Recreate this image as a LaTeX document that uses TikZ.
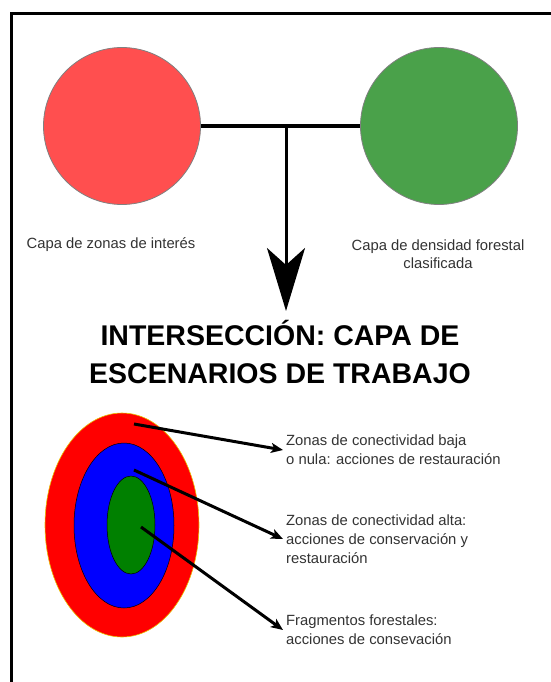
\documentclass[tikz,border=0pt]{standalone}
\usepackage{fontspec}
\setmainfont{Liberation Sans}
\usetikzlibrary{arrows.meta,shapes.geometric}
\definecolor{circred}{HTML}{FF4F4F}
\definecolor{circgreen}{HTML}{4AA14A}
\definecolor{txtgray}{HTML}{333333}
\definecolor{ringred}{HTML}{FF0000}
\definecolor{ringblue}{HTML}{0000FF}
\definecolor{ringgreen}{HTML}{008000}
\definecolor{ringedge}{HTML}{E8C000}
\tikzset{
  layer/.style={circle, minimum size=157pt, inner sep=0pt, draw=gray, line width=0.8pt},
  lbl/.style={text=txtgray, font=\fontsize{14.8}{18.5}\selectfont, align=center, inner sep=0pt},
  desc/.style={text=txtgray, font=\fontsize{14.8}{18.8}\selectfont, align=left, anchor=west, inner sep=3pt},
  ring/.style={ellipse, inner sep=0pt, draw=black, line width=0.5pt},
  link/.style={line width=3pt},
  pointer/.style={line width=3pt, -{Stealth[length=12pt, width=10pt, inset=3pt]}},
  bigarrow/.style={line width=3pt, -{Stealth[length=63pt, width=38pt, inset=17pt]}}
}
\begin{document}
\begin{tikzpicture}[x=1pt, y=-1pt]
\useasboundingbox (0,0) rectangle (550,682);
\fill[white] (0,0) rectangle (550,682);
% frame
\draw[line width=3pt] (11.5,700) -- (11.5,14) -- (560,14);
% top layers
\node[layer, fill=circred] (red) at (122,126) {};
\node[layer, fill=circgreen] (green) at (439,126) {};
\coordinate (j) at (286,126);
\coordinate (tip) at (286,311);
\draw[link] (red.east) -- (green.west);
\draw[bigarrow] (j) -- (tip);
\node[lbl] (l1) at (111,245) {Capa de zonas de interés};
\node[lbl] (l2) at (438,254) {Capa de densidad forestal\\clasificada};
% title
\node[font=\bfseries\fontsize{28.5}{38}\selectfont, align=center, inner sep=0pt] (title) at (280,352)
  {INTERSECCIÓN: CAPA DE\\ESCENARIOS DE TRABAJO};
% target
\node[ring, fill=ringred, draw=ringedge, line width=0.6pt, minimum width=154pt, minimum height=224pt] (outer) at (122,525) {};
\node[ring, fill=ringblue, minimum width=100pt, minimum height=165pt] (mid) at (124,525.5) {};
\node[ring, fill=ringgreen, minimum width=48pt, minimum height=98pt] (inner) at (131,525) {};
\coordinate (s1) at (134,424);
\coordinate (s2) at (134,470);
\coordinate (s3) at (141,527);
\node[desc] (d1) at (283,450) {Zonas de conectividad baja\\o nula: acciones de restauración};
\node[desc] (d2) at (283,539) {Zonas de conectividad alta:\\acciones de conservación y\\restauración};
\node[desc] (d3) at (283,630) {Fragmentos forestales:\\acciones de consevación};
\draw[pointer] (s1) -- (d1.west);
\draw[pointer] (s2) -- (d2.west);
\draw[pointer] (s3) -- (d3.west);
\end{tikzpicture}
\end{document}
